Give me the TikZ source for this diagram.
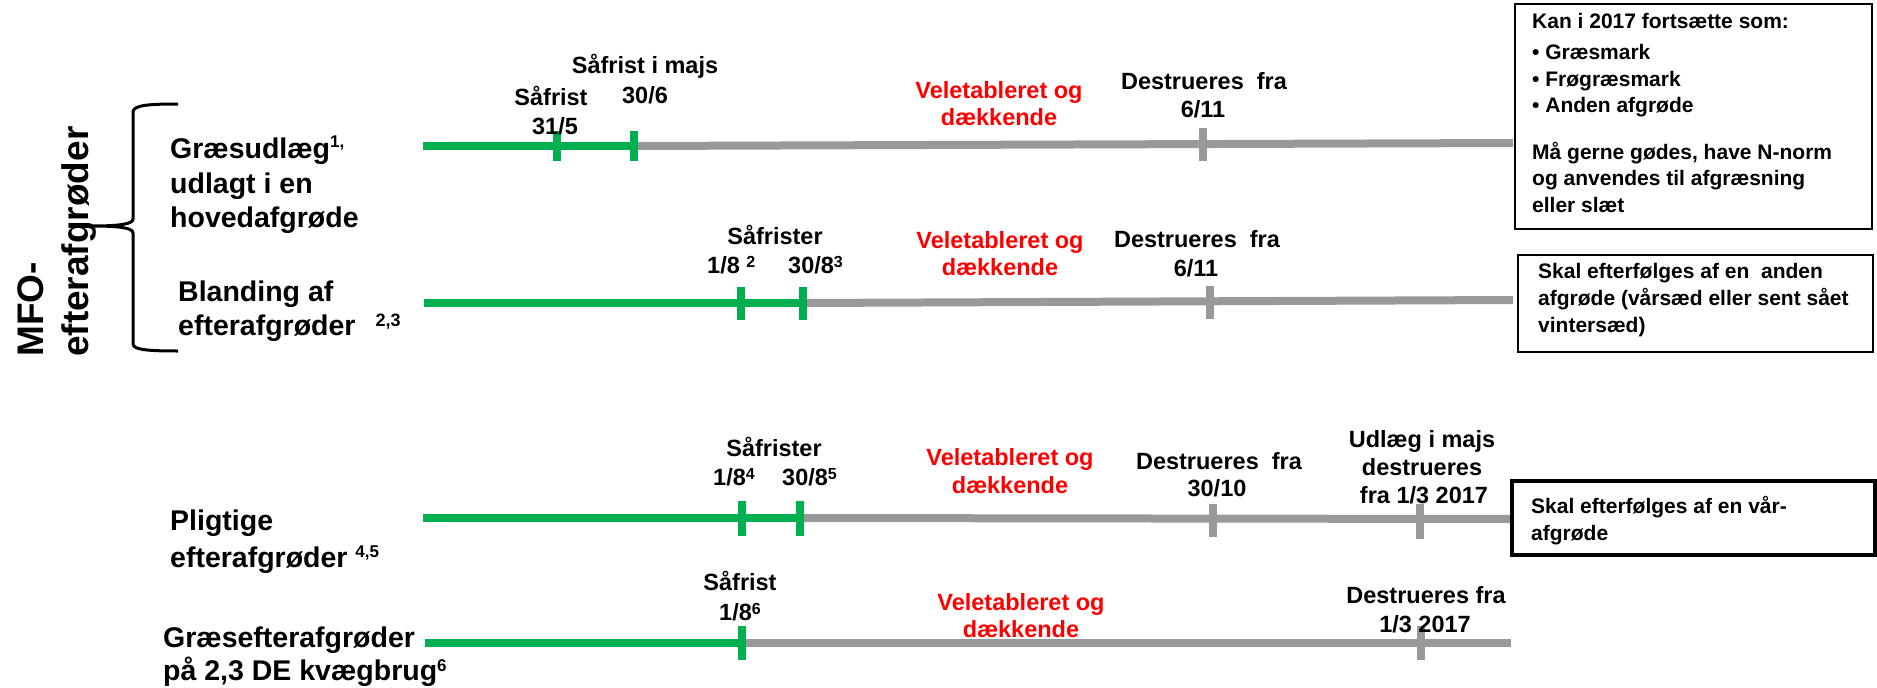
\documentclass[tikz,border=0pt]{standalone}
\usepackage{fontspec}
\setmainfont{Liberation Sans}
\definecolor{tlgreen}{RGB}{0,176,80}
\definecolor{tlgray}{RGB}{153,153,153}
\definecolor{tlred}{RGB}{255,0,0}
\newcommand{\supx}[3]{\raisebox{#1}{\fontsize{#2}{#2}\selectfont #3}}
\begin{document}
\begin{tikzpicture}[x=1pt,y=-1pt,
  gline/.style={line width=8pt,draw=tlgreen},
  yline/.style={line width=8pt,draw=tlgray},
  lab/.style={font=\fontsize{23.5}{28}\selectfont\bfseries,anchor=base,inner sep=0pt},
  labw/.style={lab,anchor=base west},
  redlab/.style={lab,text=tlred},
  rowlab/.style={font=\fontsize{28.5}{34}\selectfont\bfseries,anchor=base west,inner sep=0pt},
  mfolab/.style={font=\fontsize{37}{44}\selectfont\bfseries,anchor=base west,inner sep=0pt,rotate=90},
  boxtxt/.style={font=\fontsize{21}{26}\selectfont\bfseries,anchor=base west,inner sep=0pt},
  tbox/.style={draw=black,line width=2pt},
  tboxthick/.style={draw=black,line width=4pt},
  brace/.style={draw=black,line width=3pt},
]
\useasboundingbox (0,0) rectangle (1877,688);

% ---------- MFO label and brace ----------
\node[mfolab] (mfo1) at (43,357) {MFO-};
\node[mfolab] (mfo2) at (88,357) {efterafgrøder};
\draw[brace] (178,104) .. controls (150,104) and (133,105) .. (133,112) -- (133,219)
  .. controls (133,224) and (120,226) .. (92,226)
  .. controls (120,226) and (133,228) .. (133,233) -- (133,344)
  .. controls (133,350) and (150,351) .. (178,351);

% ---------- row labels ----------
\node[rowlab] (ra1) at (170,158) {Græsudlæg\supx{11pt}{17}{1,}};
\node[rowlab] (ra2) at (170,193) {udlagt i en};
\node[rowlab] (ra3) at (170,227) {hovedafgrøde};
\node[rowlab] (rb1) at (178,301) {Blanding af};
\node[rowlab] (rb2) at (178,335) {efterafgrøder\hspace{20pt}\supx{9pt}{18}{2,3}};
\node[rowlab] (rc1) at (170,530) {Pligtige};
\node[rowlab] (rc2) at (170,567) {efterafgrøder \supx{10pt}{17}{4,5}};
\node[rowlab] (rd1) at (163,647) {Græsefterafgrøder};
\node[rowlab] (rd2) at (163,680) {på 2,3 DE kvægbrug\supx{9pt}{17}{6}};

% ---------- row 1 timeline ----------
\coordinate (a0) at (423,146);
\coordinate (a1) at (557,146);
\coordinate (a2) at (634,146);
\coordinate (a3) at (1203,144);
\coordinate (a4) at (1513,143);
\draw[gline] (a0) -- (a2);
\draw[yline] (a2) -- (a4);
\draw[gline] (a1) ++(0,-15) -- ++(0,30);
\draw[gline] (a2) ++(0,-15) -- ++(0,30);
\draw[yline] (a3) ++(0,-16) -- ++(0,33);

\node[lab] (a1t1) at (551,105) {Såfrist};
\node[lab] (a1t2) at (555,134) {31/5};
\node[lab] (a2t1) at (645,73) {Såfrist i majs};
\node[lab] (a2t2) at (645,103) {30/6};
\node[redlab] (av1) at (999,98) {Veletableret og};
\node[redlab] (av2) at (999,125) {dækkende};
\node[lab] (a3t1) at (1204,89) {Destrueres~ fra};
\node[lab] (a3t2) at (1203,117) {6/11};

% ---------- row 2 timeline ----------
\coordinate (b0) at (424,303);
\coordinate (b1) at (741,303);
\coordinate (b2) at (803,303);
\coordinate (b3) at (1210,302);
\coordinate (b4) at (1513,300);
\draw[gline] (b0) -- (b2);
\draw[yline] (b2) -- (b4);
\draw[gline] (b1) ++(0,-16) -- ++(0,33);
\draw[gline] (b2) ++(0,-16) -- ++(0,33);
\draw[yline] (b3) ++(0,-16) -- ++(0,33);

\node[lab] (b12t) at (775,244) {Såfrister};
\node[labw] (b1t) at (707,273) {1/8 \supx{6pt}{16}{2}};
\node[labw] (b2t) at (788,273) {30/8\supx{6pt}{16}{3}};
\node[redlab] (bv1) at (1000,248) {Veletableret og};
\node[redlab] (bv2) at (1000,275) {dækkende};
\node[lab] (b3t1) at (1197,247) {Destrueres~ fra};
\node[lab] (b3t2) at (1196,276) {6/11};

% ---------- row 3 timeline ----------
\coordinate (c0) at (423,518);
\coordinate (c1) at (742,518);
\coordinate (c2) at (800,518);
\coordinate (c3) at (1213,519);
\coordinate (c4) at (1420,519);
\coordinate (c5) at (1510,519);
\draw[gline] (c0) -- (c2);
\draw[yline] (c2) -- (c5);
\draw[gline] (c1) ++(0,-17) -- ++(0,35);
\draw[gline] (c2) ++(0,-17) -- ++(0,35);
\draw[yline] (c3) ++(0,-15) -- ++(0,33);
\draw[yline] (c4) ++(0,-15) -- ++(0,35);

\node[lab] (c12t) at (774,456) {Såfrister};
\node[labw] (c1t) at (713,485) {1/8\supx{6pt}{16}{4}};
\node[labw] (c2t) at (782,485) {30/8\supx{6pt}{16}{5}};
\node[redlab] (cv1) at (1010,465) {Veletableret og};
\node[redlab] (cv2) at (1010,493) {dækkende};
\node[lab] (c3t1) at (1219,469) {Destrueres~ fra};
\node[lab] (c3t2) at (1217,496) {30/10};
\node[lab] (c4t1) at (1422,447) {Udlæg i majs};
\node[lab] (c4t2) at (1422,475) {destrueres};
\node[lab] (c4t3) at (1424,503) {fra 1/3 2017};

% ---------- row 4 timeline ----------
\coordinate (d0) at (425,643);
\coordinate (d1) at (742,643);
\coordinate (d2) at (1421,643);
\coordinate (d3) at (1511,643);
\draw[gline] (d0) -- (d1);
\draw[yline] (d1) -- (d3);
\draw[gline] (d1) ++(0,-17) -- ++(0,34);
\draw[yline] (d2) ++(0,-17) -- ++(0,34);

\node[lab] (d1t1) at (740,590) {Såfrist};
\node[lab] (d1t2) at (740,620) {1/8\supx{6pt}{16}{6}};
\node[redlab] (dv1) at (1021,610) {Veletableret og};
\node[redlab] (dv2) at (1021,637) {dækkende};
\node[lab] (d2t1) at (1426,603) {Destrueres fra};
\node[lab] (d2t2) at (1425,632) {1/3 2017};

% ---------- boxes ----------
\draw[tbox] (1515,4) rectangle (1872,229);
\node[boxtxt] (k1) at (1532,28) {Kan i 2017 fortsætte som:};
\node[boxtxt] (k2) at (1532,59) {• Græsmark};
\node[boxtxt] (k3) at (1532,86) {• Frøgræsmark};
\node[boxtxt] (k4) at (1532,112) {• Anden afgrøde};
\node[boxtxt] (k5) at (1532,159) {Må gerne gødes, have N-norm};
\node[boxtxt] (k6) at (1532,185) {og anvendes til afgræsning};
\node[boxtxt] (k7) at (1532,212) {eller slæt};

\draw[tbox] (1518,255) rectangle (1873,351.5);
\node[boxtxt] (s1) at (1538,278) {Skal efterfølges af en~ anden};
\node[boxtxt] (s2) at (1538,305) {afgrøde (vårsæd eller sent sået};
\node[boxtxt] (s3) at (1538,332) {vintersæd)};

\draw[tboxthick] (1512,481) rectangle (1875,555);
\node[boxtxt] (v1) at (1531,513) {Skal efterfølges af en vår-};
\node[boxtxt] (v2) at (1531,540) {afgrøde};
\end{tikzpicture}
\end{document}
